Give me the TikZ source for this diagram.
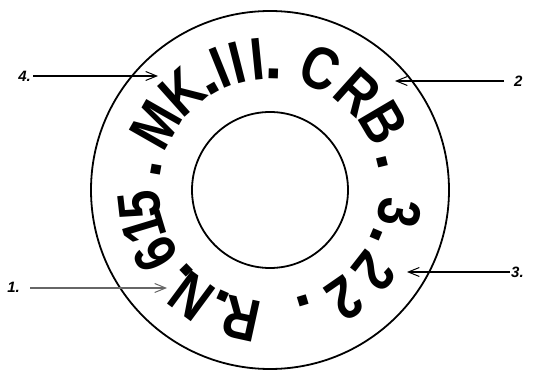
\documentclass[tikz,border=0pt]{standalone}
\usepackage{fontspec}
\setmainfont{Liberation Sans}
\usetikzlibrary{arrows.meta}
\begin{document}
\begin{tikzpicture}[x=1pt,y=1pt,
  glyph/.style={inner sep=0pt,anchor=base,font=\fontsize{60}{60}\selectfont\bfseries},
  dotg/.style={inner sep=0pt,anchor=base,font=\fontsize{66}{66}\selectfont\bfseries},
  lab/.style={inner sep=0pt,font=\fontsize{15}{15}\selectfont\bfseries\itshape},
  ring/.style={line width=1.8pt},
  arr/.style={line width=1.1pt,-{Straight Barb[length=11pt,width=9pt,line width=1pt]}}]
\useasboundingbox (0,0) rectangle (538,372);
\coordinate (C) at (270,182);
\draw[ring] (C) circle (179);
\draw[ring] (C) circle (78);
\foreach \t/\a/\n in {M/150.3/gM, K/131.8/gK, I/112/gIa, I/104.2/gIb, I/95.7/gIc,
  C/67.4/gC, R/48.1/gR, B/30.5/gB, 3/-10/g3, 2/-38/g2a, 2/-55.3/g2b,
  R/-102.4/gR2, N/-126.5/gN, 6/-150.7/g6, 1/-163.2/g1, 5/-173.5/g5}
  {\node[glyph,rotate=\a-90,xscale=0.84] (\n) at ([shift={(\a:111)}]C) {\t};}
\foreach \a/\n in {170/d1, 119.5/d2, 88.3/d3, 13.6/d4, -22.9/d5, -73.2/d6, -114/d7, -136/d8}
  {\node[dotg,rotate=\a-90] (\n) at ([shift={(\a:111)}]C) {.};}
% labels and arrows
\node[lab,anchor=east] (l4) at (31,296) {4.};
\coordinate (h4) at (158,296);
\draw[arr] (l4.east) ++(2,0) -- (h4);
\node[lab,anchor=west] (l2) at (514,291) {2};
\coordinate (h2) at (395,291);
\draw[arr] (l2.west) ++(-10,0) -- (h2);
\node[lab,anchor=east] (l1) at (20,85) {1.};
\coordinate (h1) at (167,84);
\draw[arr,draw=black!60] (l1.east) ++(10,-1) -- (h1);
\node[lab,anchor=west] (l3) at (511,100) {3.};
\coordinate (h3) at (407,100);
\draw[arr] (l3.west) ++(-1,0) -- (h3);
\end{tikzpicture}
\end{document}
